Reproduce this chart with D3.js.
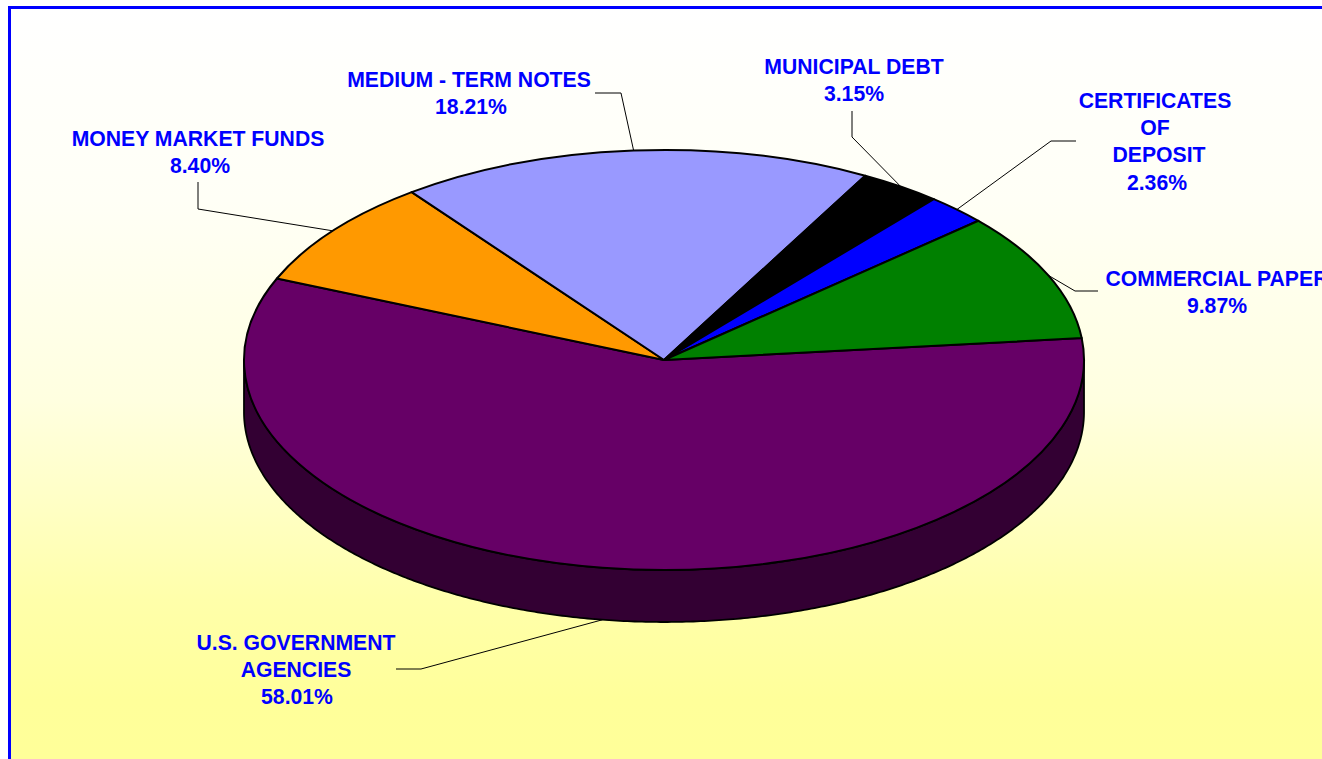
<!DOCTYPE html>
<html>
<head>
<meta charset="utf-8">
<script src="https://d3js.org/d3.v7.min.js"></script>
<style>
  html, body { margin: 0; padding: 0; background: #fff; overflow: hidden; }
  svg { display: block; }
  text { font-family: "Liberation Sans", Arial, sans-serif; font-weight: bold; font-size: 21.2px; fill: #0000ff; }
</style>
</head>
<body>
<div class="chart"></div>
<script>
// Data, clockwise from the purple slice
var categories = ["U.S. GOVERNMENT|AGENCIES", "MONEY MARKET FUNDS", "MEDIUM - TERM NOTES",
    "MUNICIPAL DEBT", "CERTIFICATES|OF|DEPOSIT", "COMMERCIAL PAPER"];
var shares = [58.01, 8.40, 18.21, 3.15, 2.36, 9.87];
var sliceColors = ["#660066", "#ff9900", "#9999ff", "#000000", "#0000ff", "#008000"];

// label centre x, first baseline y, and the elbow of the leader with its short end
var labelLayout = [
    { x: 296, y: 650, elbow: [421, 669], end: [396, 669], dx: [0, 0, 1] },
    { x: 198, y: 146, elbow: [198, 209], end: [198, 182], dx: [0, 2] },
    { x: 469, y: 87, elbow: [621, 93], end: [595, 93], dx: [0, 2] },
    { x: 854, y: 74, elbow: [852, 137], end: [852, 111] },
    { x: 1155, y: 108, elbow: [1051, 141], end: [1076, 141], dx: [0, 0, 4, 2] },
    { x: 1217, y: 286, elbow: [1075, 291], end: [1098, 291] }
];

var width = 1322, height = 759;
var cx = 664, cy = 360, rx = 420, tilt = 0.5, depth = 52;
var startAngle = 84.0 * Math.PI / 180;

var svg = d3.select(".chart")
    .append("svg")
    .attr("width", width)
    .attr("height", height);

// background gradient and frame, the frame runs off the right and bottom
var grad = svg.append("defs").append("linearGradient")
    .attr("id", "bg")
    .attr("gradientUnits", "userSpaceOnUse")
    .attr("x1", 0).attr("y1", 0).attr("x2", 0).attr("y2", height);
[[9, "#ffffff"], [100, "#fffffa"], [200, "#fffff6"], [400, "#ffffe0"], [500, "#ffffc6"],
    [600, "#ffffaa"], [700, "#ffff9a"], [759, "#ffff99"]].forEach(function (s) {
    grad.append("stop").attr("offset", s[0] / height).attr("stop-color", s[1]);
});

svg.append("rect")
    .attr("x", 9.5).attr("y", 7.5)
    .attr("width", 1400).attr("height", 900)
    .attr("fill", "url(#bg)")
    .attr("stroke", "#0000ff")
    .attr("stroke-width", 3);

var pie = d3.pie().sort(null)
    .startAngle(startAngle)
    .endAngle(startAngle + 2 * Math.PI);
var arcs = pie(shares);

var arc = d3.arc().innerRadius(0).outerRadius(rx);

// side wall of the disc, lower half of the ellipse
var wall = d3.area()
    .x(function (a) { return cx + rx * Math.sin(a); })
    .y0(function (a) { return cy - rx * tilt * Math.cos(a); })
    .y1(function (a) { return cy - rx * tilt * Math.cos(a) + depth; });

svg.append("path")
    .attr("d", wall(d3.range(0, 361).map(function (i) { return Math.PI / 2 + i * Math.PI / 360; })))
    .attr("fill", "#330033")
    .attr("stroke", "#000")
    .attr("stroke-width", 1.8);

// top of the disc
svg.append("g")
    .attr("transform", "translate(" + cx + "," + cy + ") scale(1," + tilt + ")")
    .selectAll("path")
    .data(arcs)
    .enter()
    .append("path")
    .attr("d", arc)
    .attr("fill", function (d, i) { return sliceColors[i]; })
    .attr("stroke", "#000")
    .attr("stroke-width", 2)
    .attr("stroke-linejoin", "round")
    .style("vector-effect", "non-scaling-stroke");

// leader lines, from the rim at the slice's middle angle
var leader = d3.line();
svg.selectAll(".leader")
    .data(arcs)
    .enter()
    .append("path")
    .attr("class", "leader")
    .attr("fill", "none")
    .attr("stroke", "#000")
    .attr("stroke-width", 1)
    .attr("d", function (d, i) {
        var mid = (d.startAngle + d.endAngle) / 2;
        var px = cx + rx * Math.sin(mid);
        var py = cy - rx * tilt * Math.cos(mid) + (Math.cos(mid) < 0 ? depth : 0);
        return leader([[px, py], labelLayout[i].elbow, labelLayout[i].end]);
    });

// labels
var labels = svg.selectAll(".label")
    .data(arcs)
    .enter()
    .append("text")
    .attr("class", "label")
    .attr("text-anchor", "middle");

labels.each(function (d, i) {
    var lines = categories[i].split("|").concat(d3.format(".2f")(shares[i]) + "%");
    var place = labelLayout[i];
    d3.select(this).selectAll("tspan")
        .data(lines)
        .enter()
        .append("tspan")
        .attr("x", function (l, j) { return place.x + (place.dx ? place.dx[j] : 0); })
        .attr("y", function (l, j) { return place.y + j * 27.2; })
        .text(function (l) { return l; });
});
</script>
</body>
</html>
